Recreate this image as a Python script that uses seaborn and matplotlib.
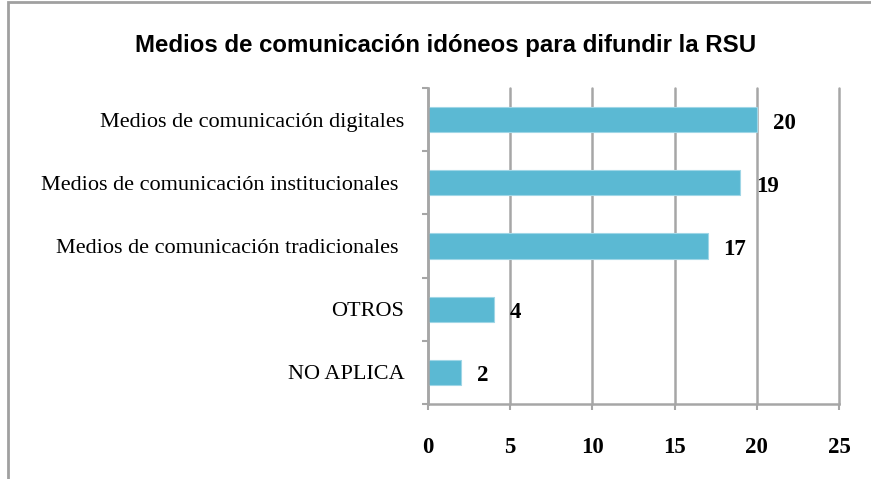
import matplotlib
matplotlib.use("Agg")
import matplotlib.pyplot as plt
from matplotlib.patches import Rectangle
from matplotlib.ticker import FixedLocator
import pandas as pd
import seaborn as sns

# Data
categories = [
    "Medios de comunicación digitales",
    "Medios de comunicación institucionales ",
    "Medios de comunicación tradicionales ",
    "OTROS",
    "NO APLICA",
]
values = [20, 19, 17, 4, 2]
x_ticks = [0, 5, 10, 15, 20, 25]
title = "Medios de comunicación idóneos para difundir la RSU"

BAR_COLOR = "#5BB9D3"
GRID_COLOR = "#A6A6A6"

df = pd.DataFrame({"medio": categories, "n": values})

sns.set_theme(style="white")
plt.rcParams["font.family"] = ["Liberation Serif", "DejaVu Serif"]
plt.rcParams["text.color"] = "black"
plt.rcParams["xtick.labelcolor"] = "black"
plt.rcParams["ytick.labelcolor"] = "black"

fig = plt.figure(figsize=(8.71, 4.79), dpi=100)
ax = fig.add_axes([0.4914, 0.1566, 0.4719, 0.6597])

sns.barplot(data=df, x="n", y="medio", color=BAR_COLOR, width=0.4,
            edgecolor="#9FD6E6", linewidth=0.8, saturation=1, ax=ax)

ax.set_xlim(0, 25)
ax.set_ylim(4.5, -0.5)
ax.set_xticks(x_ticks)
ax.set_xticklabels([str(t) for t in x_ticks], fontweight="bold", fontsize=16.5)
ax.set_xlabel("")
ax.set_ylabel("")
ax.set_yticklabels(categories, fontsize=16, va="center_baseline")

ax.grid(axis="x", color=GRID_COLOR, linewidth=1.8)
for line in ax.get_xgridlines():
    line.set_clip_on(False)
ax.set_axisbelow(True)
for side in ["top", "right"]:
    ax.spines[side].set_visible(False)
for side in ["left", "bottom"]:
    ax.spines[side].set_color(GRID_COLOR)
    ax.spines[side].set_linewidth(1.8)

ax.yaxis.set_minor_locator(FixedLocator([-0.5, 0.5, 1.5, 2.5, 3.5, 4.5]))
ax.tick_params(axis="y", which="major", length=0, pad=17)
ax.tick_params(axis="y", which="minor", left=True, length=4, width=1.5,
               color=GRID_COLOR)
ax.tick_params(axis="x", which="major", bottom=True, length=4, width=1.5,
               color=GRID_COLOR, pad=20)

for i, v in enumerate(values):
    ax.annotate(str(v), xy=(v, i), xytext=(11.5, -2.5), textcoords="offset points",
                ha="left", va="center", fontweight="bold", fontsize=16.5)

fig.text(0.511, 0.905, title, ha="center", va="center",
         fontfamily="Liberation Sans", fontweight="bold", fontsize=17.3)

# chart frame (only left and top edges are visible in the crop)
fig.patches.append(Rectangle((0.0095, -0.05), 1.1, 1.0455, transform=fig.transFigure,
                             fill=False, edgecolor="#A0A0A0", linewidth=2))

fig.savefig("out.png", dpi=100)
